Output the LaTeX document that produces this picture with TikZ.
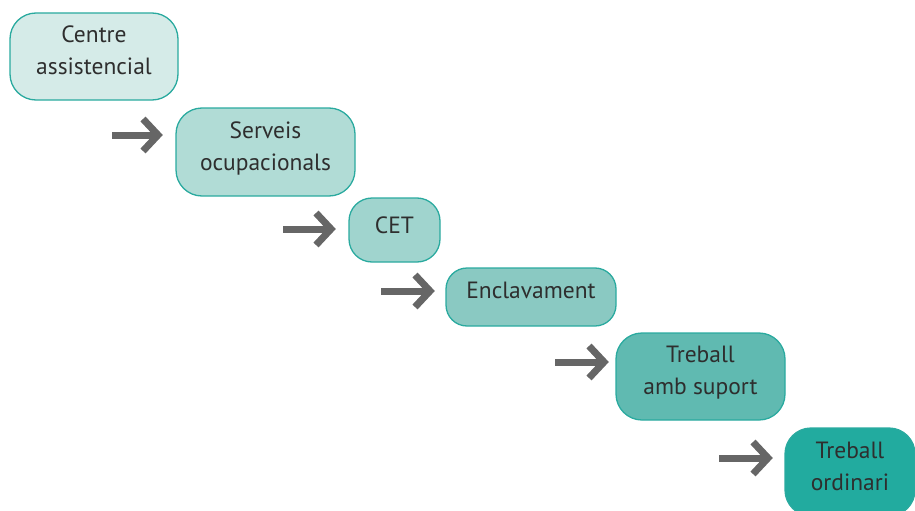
\documentclass[tikz,border=0pt]{standalone}
\usepackage{fontspec}
\setmainfont{PT Sans}
\definecolor{bordc}{HTML}{2AAA9F}
\definecolor{txtc}{HTML}{2E2E2E}
\definecolor{arrc}{HTML}{666666}
\definecolor{f1}{HTML}{D5EBE8}
\definecolor{f2}{HTML}{B1DCD6}
\definecolor{f3}{HTML}{A0D4CE}
\definecolor{f4}{HTML}{8AC9C2}
\definecolor{f5}{HTML}{60BAB1}
\definecolor{f6}{HTML}{22AB9F}
\newcommand{\uptext}[2]{\raisebox{#1}[\height][\depth]{\begin{tabular}{@{}c@{}}#2\end{tabular}}}
\tikzset{
  stage/.style={draw=bordc, line width=1.3pt, rounded corners=26pt, align=center,
    text=txtc, font=\fontsize{23.5}{32}\selectfont, inner sep=0pt},
  flowarrow/.style={draw=arrc, line width=7pt, line join=miter}
}
\begin{document}
\begin{tikzpicture}[x=1pt,y=-1pt]
\useasboundingbox (0,0) rectangle (915,511);
\begin{scope}
\clip (0,0) rectangle (915,511);
\node[stage, fill=f1, minimum width=168pt, minimum height=87pt] (n1) at (94,56.5) {\uptext{4pt}{Centre\\assistencial}};
\node[stage, fill=f2, minimum width=179pt, minimum height=88pt] (n2) at (265.5,152) {\uptext{4pt}{Serveis\\ocupacionals}};
\node[stage, fill=f3, minimum width=91pt, minimum height=64pt, rounded corners=23pt] (n3) at (394.5,230) {\uptext{3pt}{CET}};
\node[stage, fill=f4, minimum width=170pt, minimum height=58pt, rounded corners=21pt] (n4) at (531,297) {\uptext{5pt}{Enclavament}};
\node[stage, fill=f5, minimum width=169pt, minimum height=87pt] (n5) at (700.5,376.5) {\uptext{4pt}{Treball\\amb suport}};
\node[stage, fill=f6, minimum width=130pt, minimum height=88pt] (n6) at (850,472) {\uptext{4pt}{Treball\\ordinari}};
\end{scope}
% arrows
\foreach \i/\xa/\xb/\yy in {1/112/160/135, 2/283/333/229, 3/381/432/291, 4/555/606/362, 5/719/770/458}{
  \coordinate (s\i) at (\xa,\yy);
  \coordinate (t\i) at (\xb,\yy);
  \draw[flowarrow] (s\i) -- ([xshift=-3pt]t\i);
  \draw[flowarrow] ([xshift=-17pt,yshift=-16pt]t\i) -- ([xshift=-2pt]t\i) -- ([xshift=-17pt,yshift=16pt]t\i);
}
\end{tikzpicture}
\end{document}
